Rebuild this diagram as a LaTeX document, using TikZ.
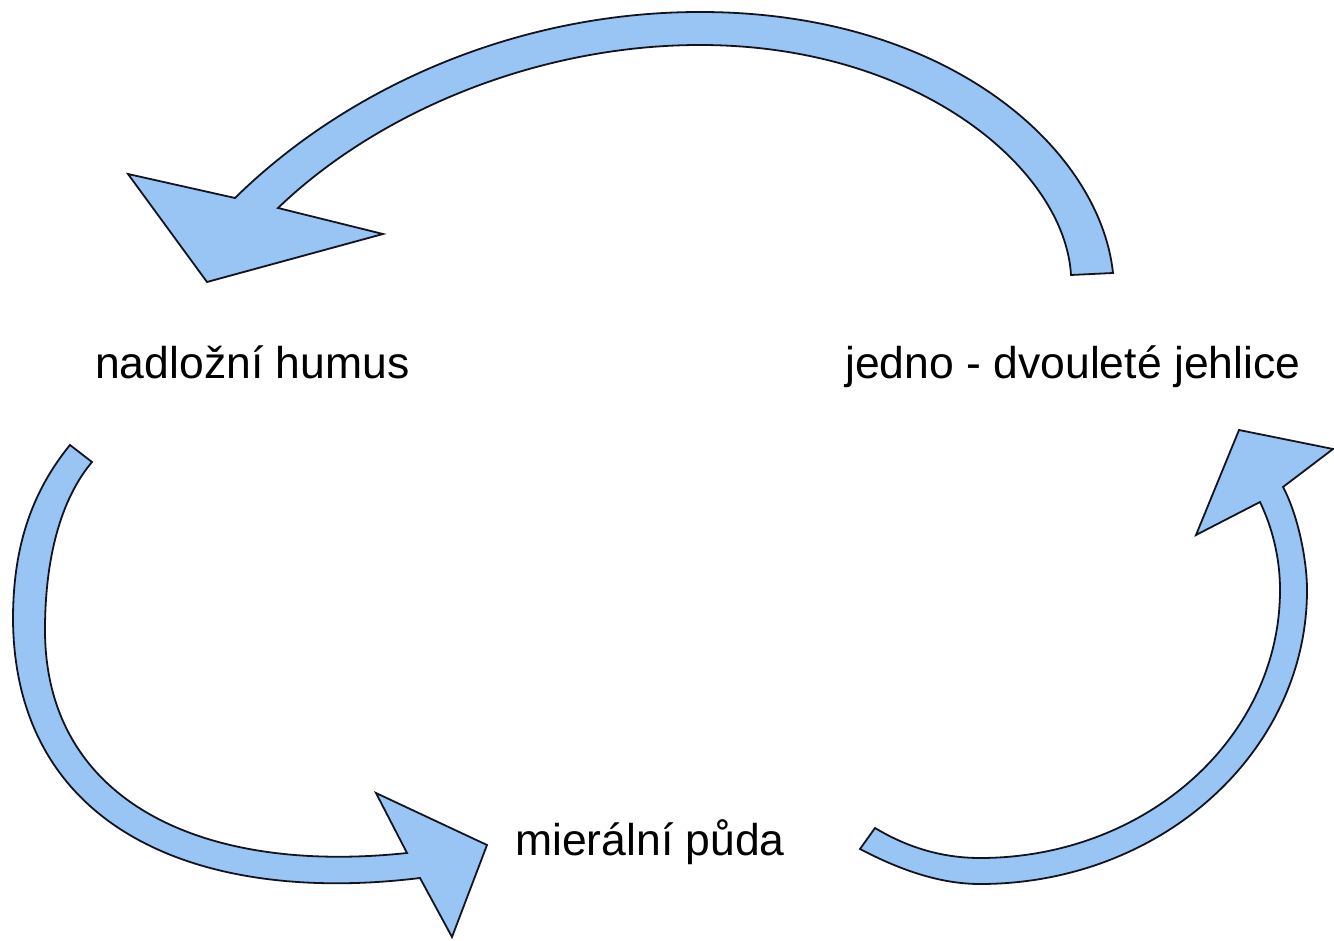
\documentclass[tikz,border=0pt]{standalone}
\usepackage{fontspec}
\setmainfont{Liberation Sans}
\definecolor{arrowfill}{RGB}{153,197,245}
\definecolor{arrowline}{RGB}{20,20,30}
\tikzset{
  blockarrow/.style={fill=arrowfill, draw=arrowline, line width=1.8pt, line join=miter},
  lab/.style={inner sep=0pt, anchor=base west, font=\fontsize{44.5}{52}\selectfont}
}
\begin{document}
\begin{tikzpicture}[x=1pt,y=-1pt]
\useasboundingbox (0,0) rectangle (1334,941);
\fill[white] (0,0) rectangle (1334,941);

% labels
\node[lab] (humus) at (95,378) {nadložní humus};
\node[lab] (jehlice) at (845,378) {jedno - dvouleté jehlice};
\node[lab] (puda) at (515,855) {mierální půda};

% top arrow: jehlice -> humus
\draw[blockarrow]
  (1113,273) .. controls (1100,150) and (950,12) .. (700,12)
  .. controls (520,12) and (350,85) .. (235,198)
  -- (128,174) -- (207,282) -- (383,234) -- (278,208)
  .. controls (380,110) and (540,45) .. (700,45)
  .. controls (920,45) and (1065,170) .. (1071,275)
  -- cycle;

% bottom-left arrow: humus -> puda
\draw[blockarrow]
  (70,445) .. controls (25,500) and (13,560) .. (13,620)
  .. controls (15,830) and (200,905) .. (420,878)
  -- (452,937) -- (487,845) -- (376,793) -- (407,853)
  .. controls (200,875) and (45,800) .. (45,630)
  .. controls (45,560) and (60,500) .. (92,462)
  -- cycle;

% bottom-right arrow: puda -> jehlice
\draw[blockarrow]
  (860,849) .. controls (900,870) and (940,884) .. (980,884)
  .. controls (1160.6,884) and (1307,752.4) .. (1307,590)
  .. controls (1307,560) and (1298,515) .. (1283,487)
  -- (1333,449) -- (1239,430) -- (1196,535) -- (1260,502)
  .. controls (1271,525) and (1280,555) .. (1280,590)
  .. controls (1280,738) and (1145.7,858) .. (980,858)
  .. controls (935,858) and (900,843) .. (875,828)
  -- cycle;
\end{tikzpicture}
\end{document}
